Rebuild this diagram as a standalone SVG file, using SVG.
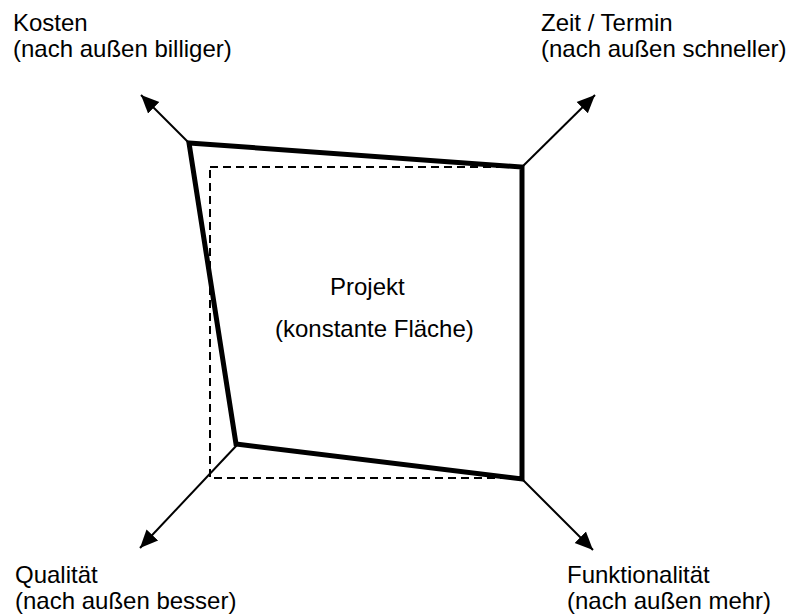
<svg xmlns="http://www.w3.org/2000/svg" width="789" height="615" viewBox="0 0 789 615">
  <style>
    .lbl { font-family: "Liberation Sans", Arial, sans-serif; font-size: 24px; fill: #000; }
    .axis { stroke: #000; stroke-width: 2; fill: none; marker-end: url(#head); }
    .base { stroke: #000; stroke-width: 2; fill: none; stroke-dasharray: 8 5; }
    .shape { stroke: #000; stroke-width: 5; fill: none; stroke-linejoin: miter; }
  </style>
  <defs>
    <marker id="head" markerUnits="userSpaceOnUse" markerWidth="20" markerHeight="20" viewBox="0 0 20 20" refX="18" refY="10" orient="auto">
      <path d="M0,2 L18,10 L0,18 Z" fill="#000"/>
    </marker>
  </defs>

  <!-- reference square and deformed project shape -->
  <g id="baseline-square">
    <rect class="base" x="210" y="167" width="312" height="311"/>
  </g>
  <g id="project">
    <polygon class="shape" points="189,143 522,167 522,479 236,444"/>
    <text class="lbl" x="330" y="295">Projekt</text>
    <text class="lbl" x="275" y="337">(konstante Fläche)</text>
  </g>

  <!-- axes pointing outward from each corner -->
  <g id="connectors">
    <line class="axis" x1="189" y1="143" x2="141" y2="95"/>
    <line class="axis" x1="522" y1="167" x2="595" y2="95"/>
    <line class="axis" x1="237" y1="445" x2="140" y2="548"/>
    <line class="axis" x1="522" y1="479" x2="593" y2="550"/>
  </g>

  <g id="kosten">
    <text class="lbl" x="13" y="31">Kosten</text>
    <text class="lbl" x="13" y="57">(nach außen billiger)</text>
  </g>
  <g id="zeit">
    <text class="lbl" x="541" y="31">Zeit / Termin</text>
    <text class="lbl" x="541" y="57">(nach außen schneller)</text>
  </g>
  <g id="qualitaet">
    <text class="lbl" x="15" y="583">Qualität</text>
    <text class="lbl" x="15" y="609">(nach außen besser)</text>
  </g>
  <g id="funktionalitaet">
    <text class="lbl" x="567" y="583">Funktionalität</text>
    <text class="lbl" x="567" y="609">(nach außen mehr)</text>
  </g>
</svg>
